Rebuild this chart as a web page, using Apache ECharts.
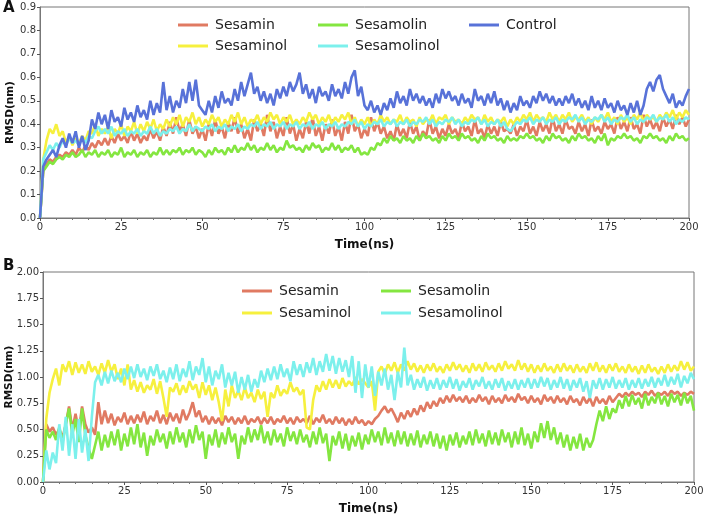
<!DOCTYPE html>
<html><head><meta charset="utf-8">
<script src="https://cdn.jsdelivr.net/npm/echarts@6/dist/echarts.min.js"></script>
<style>html,body{margin:0;padding:0;background:#fff}#c{width:708px;height:515px}</style>
</head><body><div id="c"></div>
<script>
// ---------- Panel A (1 ns steps, t = 0..200) ----------
const namesA = ['Sesamin','Sesaminol','Sesamolin','Sesamolinol','Control'];
const A_Sesamin = [
0.00,0.20,0.23,0.25,0.24,0.26,0.27,0.26,0.28,0.27,
0.29,0.27,0.30,0.28,0.31,0.29,0.32,0.30,0.33,0.31,
0.34,0.31,0.35,0.32,0.36,0.33,0.35,0.32,0.37,0.33,
0.36,0.32,0.35,0.33,0.38,0.34,0.37,0.33,0.39,0.35,
0.41,0.36,0.43,0.37,0.40,0.35,0.42,0.36,0.39,0.34,
0.38,0.33,0.40,0.35,0.42,0.36,0.39,0.34,0.41,0.37,
0.43,0.36,0.40,0.34,0.38,0.33,0.42,0.37,0.40,0.35,
0.44,0.37,0.41,0.34,0.39,0.35,0.43,0.36,0.40,0.33,
0.38,0.34,0.41,0.36,0.43,0.35,0.39,0.33,0.40,0.36,
0.42,0.35,0.39,0.33,0.41,0.36,0.44,0.37,0.40,0.34,
0.38,0.35,0.43,0.37,0.41,0.36,0.39,0.34,0.37,0.33,
0.40,0.35,0.38,0.34,0.41,0.36,0.39,0.33,0.37,0.35,
0.42,0.36,0.39,0.34,0.38,0.35,0.40,0.36,0.38,0.34,
0.41,0.37,0.39,0.35,0.42,0.36,0.38,0.34,0.40,0.36,
0.39,0.35,0.41,0.37,0.38,0.36,0.40,0.35,0.39,0.37,
0.42,0.36,0.39,0.35,0.41,0.37,0.40,0.36,0.43,0.37,
0.40,0.36,0.42,0.38,0.39,0.36,0.41,0.37,0.40,0.35,
0.42,0.37,0.39,0.36,0.41,0.38,0.40,0.36,0.43,0.38,
0.41,0.37,0.43,0.38,0.40,0.36,0.44,0.39,0.42,0.38,
0.41,0.37,0.43,0.39,0.42,0.38,0.44,0.40,0.43,0.39,
0.42];
const A_Sesaminol = [
0.00,0.25,0.33,0.38,0.36,0.40,0.35,0.37,0.32,0.35,
0.31,0.34,0.32,0.35,0.33,0.37,0.36,0.40,0.35,0.38,
0.36,0.39,0.34,0.38,0.36,0.40,0.35,0.39,0.37,0.41,
0.36,0.40,0.37,0.41,0.38,0.42,0.37,0.40,0.38,0.42,
0.39,0.43,0.40,0.44,0.39,0.43,0.41,0.45,0.40,0.43,
0.39,0.42,0.40,0.44,0.41,0.43,0.39,0.42,0.40,0.44,
0.41,0.45,0.40,0.43,0.39,0.42,0.41,0.44,0.40,0.43,
0.41,0.45,0.42,0.44,0.40,0.43,0.41,0.44,0.40,0.42,
0.40,0.43,0.41,0.45,0.42,0.44,0.40,0.43,0.41,0.44,
0.40,0.43,0.41,0.44,0.42,0.45,0.40,0.43,0.39,0.42,
0.40,0.43,0.39,0.42,0.40,0.44,0.41,0.43,0.40,0.42,
0.41,0.44,0.40,0.43,0.41,0.42,0.39,0.43,0.40,0.42,
0.41,0.44,0.40,0.43,0.42,0.44,0.40,0.43,0.41,0.42,
0.40,0.43,0.41,0.44,0.42,0.43,0.40,0.44,0.41,0.43,
0.40,0.42,0.41,0.43,0.39,0.42,0.40,0.43,0.41,0.44,
0.42,0.45,0.41,0.44,0.42,0.43,0.41,0.45,0.42,0.44,
0.41,0.44,0.42,0.45,0.41,0.43,0.42,0.44,0.41,0.43,
0.40,0.43,0.41,0.44,0.42,0.45,0.41,0.43,0.40,0.44,
0.41,0.43,0.40,0.44,0.42,0.45,0.41,0.44,0.42,0.43,
0.41,0.44,0.42,0.45,0.43,0.46,0.42,0.45,0.43,0.46,
0.44];
const A_Sesamolin = [
0.00,0.20,0.22,0.24,0.23,0.25,0.26,0.25,0.27,0.26,
0.28,0.26,0.27,0.29,0.26,0.28,0.27,0.29,0.26,0.28,
0.27,0.29,0.26,0.28,0.27,0.30,0.26,0.28,0.27,0.29,
0.26,0.28,0.27,0.29,0.26,0.28,0.27,0.30,0.27,0.29,
0.27,0.29,0.28,0.30,0.27,0.29,0.28,0.30,0.27,0.29,
0.28,0.26,0.29,0.27,0.30,0.28,0.29,0.27,0.30,0.28,
0.31,0.28,0.30,0.29,0.32,0.29,0.31,0.28,0.30,0.29,
0.32,0.29,0.31,0.28,0.30,0.29,0.33,0.30,0.31,0.29,
0.30,0.28,0.31,0.29,0.32,0.30,0.31,0.28,0.30,0.29,
0.32,0.29,0.31,0.28,0.30,0.29,0.31,0.28,0.30,0.27,
0.28,0.27,0.30,0.29,0.32,0.31,0.34,0.32,0.35,0.33,
0.34,0.32,0.35,0.33,0.34,0.32,0.35,0.33,0.36,0.34,
0.35,0.33,0.34,0.32,0.35,0.33,0.36,0.34,0.35,0.33,
0.36,0.34,0.35,0.33,0.34,0.32,0.35,0.33,0.36,0.34,
0.35,0.33,0.34,0.32,0.35,0.33,0.34,0.33,0.35,0.34,
0.36,0.34,0.35,0.33,0.34,0.32,0.35,0.33,0.36,0.34,
0.35,0.33,0.34,0.32,0.35,0.33,0.36,0.34,0.35,0.33,
0.34,0.32,0.35,0.33,0.36,0.31,0.34,0.33,0.35,0.34,
0.36,0.34,0.35,0.33,0.34,0.32,0.35,0.34,0.36,0.34,
0.35,0.33,0.34,0.32,0.35,0.33,0.36,0.34,0.35,0.33,
0.34];
const A_Sesamolinol = [
0.00,0.25,0.28,0.31,0.29,0.32,0.30,0.33,0.31,0.34,
0.32,0.33,0.31,0.34,0.32,0.35,0.34,0.37,0.39,0.36,
0.38,0.36,0.39,0.35,0.37,0.36,0.38,0.35,0.37,0.36,
0.38,0.35,0.37,0.36,0.39,0.36,0.38,0.35,0.37,0.36,
0.38,0.37,0.39,0.36,0.38,0.37,0.40,0.37,0.39,0.38,
0.37,0.39,0.38,0.40,0.37,0.39,0.38,0.40,0.37,0.39,
0.38,0.40,0.37,0.39,0.38,0.40,0.39,0.41,0.38,0.40,
0.39,0.41,0.38,0.40,0.39,0.41,0.38,0.40,0.39,0.41,
0.38,0.40,0.39,0.41,0.38,0.40,0.39,0.41,0.38,0.40,
0.39,0.41,0.38,0.40,0.39,0.41,0.40,0.42,0.39,0.41,
0.38,0.40,0.39,0.41,0.40,0.42,0.39,0.41,0.40,0.42,
0.39,0.41,0.40,0.42,0.39,0.41,0.40,0.42,0.41,0.43,
0.40,0.42,0.39,0.41,0.40,0.42,0.41,0.43,0.40,0.42,
0.39,0.41,0.40,0.42,0.41,0.43,0.40,0.42,0.39,0.41,
0.40,0.42,0.39,0.41,0.38,0.37,0.39,0.41,0.40,0.42,
0.41,0.43,0.40,0.42,0.41,0.43,0.40,0.42,0.41,0.43,
0.40,0.42,0.41,0.43,0.42,0.44,0.41,0.43,0.40,0.42,
0.41,0.43,0.42,0.44,0.41,0.43,0.40,0.42,0.41,0.43,
0.42,0.44,0.41,0.43,0.40,0.42,0.41,0.43,0.42,0.44,
0.41,0.43,0.42,0.44,0.41,0.43,0.40,0.42,0.41,0.43,
0.42];
const A_Control = [
0.00,0.22,0.25,0.27,0.29,0.26,0.31,0.34,0.30,0.36,
0.32,0.37,0.30,0.35,0.29,0.33,0.42,0.38,0.45,0.40,
0.44,0.38,0.46,0.41,0.43,0.39,0.47,0.42,0.45,0.41,
0.48,0.43,0.46,0.42,0.50,0.44,0.49,0.45,0.58,0.46,
0.52,0.45,0.50,0.47,0.55,0.49,0.58,0.50,0.59,0.48,
0.46,0.44,0.50,0.45,0.52,0.47,0.54,0.49,0.51,0.48,
0.55,0.50,0.58,0.52,0.57,0.62,0.53,0.56,0.50,0.54,
0.49,0.53,0.48,0.55,0.51,0.56,0.52,0.58,0.54,0.57,
0.62,0.53,0.57,0.51,0.55,0.49,0.56,0.52,0.54,0.50,
0.57,0.52,0.55,0.51,0.58,0.53,0.60,0.63,0.52,0.56,
0.48,0.46,0.50,0.45,0.48,0.44,0.49,0.46,0.51,0.47,
0.54,0.49,0.52,0.48,0.55,0.50,0.53,0.49,0.52,0.48,
0.51,0.47,0.53,0.49,0.55,0.51,0.54,0.50,0.52,0.48,
0.53,0.49,0.51,0.47,0.55,0.50,0.52,0.48,0.53,0.49,
0.54,0.48,0.51,0.46,0.50,0.45,0.49,0.46,0.52,0.48,
0.50,0.47,0.52,0.49,0.54,0.50,0.53,0.49,0.52,0.48,
0.51,0.48,0.52,0.49,0.53,0.48,0.51,0.47,0.50,0.46,
0.52,0.47,0.50,0.46,0.51,0.47,0.49,0.45,0.50,0.46,
0.48,0.44,0.49,0.45,0.50,0.44,0.48,0.55,0.58,0.54,
0.59,0.61,0.55,0.52,0.49,0.53,0.47,0.50,0.48,0.52,
0.55];

// ---------- Panel B (1 ns steps, t = 0..200) ----------
const namesB = ['Sesamin','Sesaminol','Sesamolin','Sesamolinol'];
const B_Sesamin = [
0.00,0.55,0.48,0.52,0.45,0.50,0.42,0.55,0.72,0.50,
0.65,0.48,0.72,0.55,0.47,0.52,0.45,0.76,0.55,0.68,
0.56,0.65,0.54,0.62,0.57,0.66,0.55,0.63,0.56,0.64,
0.57,0.67,0.55,0.63,0.58,0.68,0.56,0.64,0.55,0.66,
0.58,0.65,0.56,0.69,0.59,0.66,0.76,0.62,0.68,0.57,
0.63,0.55,0.62,0.56,0.61,0.54,0.63,0.57,0.62,0.55,
0.61,0.56,0.63,0.55,0.60,0.57,0.62,0.55,0.61,0.56,
0.62,0.55,0.60,0.57,0.63,0.56,0.61,0.55,0.62,0.57,
0.60,0.56,0.63,0.55,0.61,0.57,0.64,0.56,0.60,0.55,
0.62,0.56,0.61,0.54,0.60,0.55,0.62,0.56,0.59,0.54,
0.58,0.55,0.60,0.63,0.68,0.72,0.66,0.70,0.64,0.57,
0.66,0.60,0.68,0.62,0.70,0.64,0.73,0.67,0.76,0.70,
0.77,0.72,0.80,0.75,0.82,0.76,0.83,0.77,0.81,0.76,
0.82,0.75,0.80,0.76,0.83,0.77,0.81,0.74,0.82,0.76,
0.80,0.75,0.83,0.77,0.81,0.76,0.84,0.78,0.81,0.75,
0.82,0.76,0.80,0.74,0.83,0.77,0.81,0.75,0.82,0.76,
0.80,0.74,0.82,0.76,0.79,0.73,0.81,0.75,0.80,0.72,
0.81,0.75,0.79,0.74,0.82,0.76,0.80,0.84,0.81,0.85,
0.82,0.86,0.83,0.85,0.81,0.86,0.83,0.87,0.82,0.85,
0.83,0.86,0.82,0.87,0.84,0.86,0.82,0.85,0.83,0.86,
0.84];
const B_Sesaminol = [
0.00,0.60,0.85,0.98,1.08,0.92,1.12,1.05,1.15,1.02,
1.14,1.04,1.12,1.03,1.15,1.05,1.10,1.02,1.13,1.04,
1.16,1.05,1.12,0.98,1.08,0.92,1.12,0.88,0.97,0.86,
0.95,0.85,0.92,0.88,0.98,0.84,0.96,0.80,0.62,0.90,
0.86,0.94,0.83,0.92,0.85,0.96,0.88,0.93,0.80,0.95,
0.83,0.92,0.78,0.90,0.76,0.58,0.88,0.72,0.92,0.80,
0.87,0.78,0.90,0.80,0.85,0.76,0.88,0.79,0.86,0.62,
0.85,0.80,0.92,0.82,0.88,0.84,0.95,0.86,0.90,0.83,
0.88,0.52,0.50,0.78,0.92,0.86,0.96,0.88,0.98,0.90,
0.97,0.89,0.99,0.91,0.96,0.92,1.00,0.93,0.98,0.94,
0.90,0.96,0.68,1.05,1.10,1.03,1.12,1.06,1.14,1.04,
1.12,1.06,1.15,1.07,1.13,1.05,1.11,1.04,1.12,1.06,
1.13,1.05,1.10,1.04,1.12,1.06,1.14,1.07,1.12,1.05,
1.11,1.04,1.13,1.06,1.12,1.05,1.14,1.07,1.11,1.05,
1.13,1.06,1.15,1.08,1.12,1.06,1.16,1.07,1.13,1.05,
1.12,1.04,1.11,1.05,1.13,1.06,1.10,1.04,1.12,1.05,
1.13,1.06,1.11,1.04,1.12,1.05,1.10,1.04,1.13,1.06,
1.14,1.05,1.11,1.04,1.12,1.06,1.13,1.05,1.10,1.04,
1.12,1.05,1.10,1.03,1.11,1.04,1.12,1.05,1.09,1.03,
1.10,1.04,1.12,1.05,1.11,1.06,1.15,1.07,1.14,1.06,
1.10];
const B_Sesamolin = [
0.00,0.50,0.42,0.48,0.40,0.52,0.38,0.55,0.70,0.45,
0.60,0.38,0.70,0.45,0.32,0.22,0.35,0.48,0.30,0.45,
0.33,0.48,0.35,0.50,0.30,0.46,0.34,0.52,0.36,0.55,
0.33,0.47,0.25,0.44,0.35,0.50,0.38,0.46,0.32,0.48,
0.36,0.52,0.38,0.47,0.33,0.50,0.37,0.54,0.40,0.48,
0.22,0.45,0.35,0.50,0.33,0.47,0.36,0.52,0.38,0.46,
0.22,0.44,0.36,0.52,0.38,0.50,0.40,0.54,0.37,0.48,
0.35,0.50,0.38,0.46,0.34,0.52,0.39,0.48,0.36,0.50,
0.38,0.45,0.33,0.48,0.36,0.52,0.37,0.46,0.20,0.44,
0.35,0.48,0.32,0.46,0.30,0.44,0.34,0.47,0.31,0.45,
0.36,0.50,0.38,0.48,0.35,0.52,0.37,0.47,0.34,0.49,
0.36,0.48,0.34,0.46,0.35,0.49,0.33,0.45,0.36,0.48,
0.34,0.46,0.32,0.44,0.30,0.45,0.35,0.47,0.33,0.44,
0.36,0.48,0.35,0.50,0.37,0.46,0.34,0.49,0.36,0.47,
0.35,0.50,0.38,0.47,0.33,0.48,0.36,0.52,0.35,0.46,
0.32,0.48,0.38,0.56,0.42,0.58,0.40,0.52,0.36,0.47,
0.33,0.45,0.30,0.43,0.32,0.46,0.30,0.42,0.33,0.40,
0.55,0.68,0.58,0.72,0.60,0.70,0.66,0.78,0.70,0.82,
0.72,0.83,0.74,0.80,0.70,0.84,0.73,0.81,0.75,0.85,
0.74,0.82,0.72,0.84,0.76,0.83,0.73,0.85,0.75,0.82,
0.68];
const B_Sesamolinol = [
0.00,0.30,0.12,0.28,0.18,0.55,0.30,0.62,0.25,0.55,
0.22,0.60,0.28,0.50,0.20,0.62,0.95,1.02,0.92,1.05,
0.94,1.06,0.96,1.04,0.95,1.08,0.98,1.10,0.99,1.12,
1.00,1.08,0.97,1.10,1.01,1.12,0.98,1.06,0.95,1.09,
0.98,1.12,0.96,1.08,1.00,1.15,0.97,1.10,1.02,1.18,
0.95,1.10,0.92,1.06,0.98,1.12,0.90,1.04,0.92,1.05,
0.85,1.00,0.88,1.02,0.86,0.98,0.90,1.06,0.95,1.08,
0.97,1.10,0.98,1.12,1.00,1.08,0.96,1.15,1.02,1.12,
1.00,1.14,1.04,1.18,1.02,1.15,1.05,1.22,1.06,1.20,
1.03,1.18,1.05,1.16,1.00,1.20,0.85,1.15,0.80,1.12,
0.90,1.10,0.82,1.05,0.92,1.08,0.88,1.02,0.78,1.05,
0.90,1.28,0.92,1.02,0.88,0.98,0.90,1.00,0.87,0.97,
0.89,0.99,0.88,0.97,0.90,1.00,0.89,0.98,0.87,0.96,
0.90,0.99,0.88,0.97,0.91,1.00,0.89,0.96,0.88,0.98,
0.90,0.99,0.87,0.96,0.89,0.98,0.88,0.97,0.90,0.99,
0.89,0.98,0.90,1.00,0.91,0.99,0.88,0.97,0.90,1.00,
0.89,0.98,0.87,0.97,0.90,0.99,0.86,0.96,0.80,0.97,
0.89,0.99,0.88,0.98,0.90,1.00,0.89,0.97,0.90,0.99,
0.88,0.97,0.90,0.99,0.89,0.98,0.91,1.00,0.90,0.99,
0.92,1.02,0.91,1.00,0.93,1.03,0.90,1.01,0.94,1.04,
0.98];

const xTicks = [0,25,50,75,100,125,150,175,200];
const yTicksA = [0.0,0.1,0.2,0.3,0.4,0.5,0.6,0.7,0.8,0.9];
const yTicksB = [0.00,0.25,0.50,0.75,1.00,1.25,1.50,1.75,2.00];

const colors = {
  Sesamin:'#e07a62', Sesaminol:'#f6f03e', Sesamolin:'#84e640',
  Sesamolinol:'#7cf0ec', Control:'#5872d8'
};
const seriesDataA = {Sesamin:A_Sesamin, Sesaminol:A_Sesaminol, Sesamolin:A_Sesamolin, Sesamolinol:A_Sesamolinol, Control:A_Control};
const seriesDataB = {Sesamin:B_Sesamin, Sesaminol:B_Sesaminol, Sesamolin:B_Sesamolin, Sesamolinol:B_Sesamolinol};

const toPairs = arr => arr.map((v,i)=>[i, v]);
const FONT = 'DejaVu Sans';

function xAxis(gridIndex){
  return {
    type:'value', gridIndex, min:xTicks[0], max:xTicks[xTicks.length-1], interval:25,
    name:'Time(ns)', nameLocation:'middle', nameGap:21, nameMoveOverlap:false,
    nameTextStyle:{fontFamily:FONT, fontWeight:'bold', fontSize:12, color:'#111'},
    axisLine:{lineStyle:{color:'#777', width:1}},
    axisTick:{show:true, length:3, lineStyle:{color:'#555'}},
    minorTick:{show:true, splitNumber:5, length:2, lineStyle:{color:'#777'}},
    axisLabel:{fontFamily:FONT, fontSize:10, color:'#333', margin:4},
    splitLine:{show:false}
  };
}
function yAxis(gridIndex, ticks, dec, gap){
  const step = ticks[1]-ticks[0];
  return {
    type:'value', gridIndex, min:ticks[0], max:ticks[ticks.length-1], interval:step,
    name:'RMSD(nm)', nameLocation:'middle', nameGap: gap, nameMoveOverlap:false,
    nameTextStyle:{fontFamily:FONT, fontWeight:'bold', fontSize:10.5, color:'#111'},
    axisLine:{show:true, lineStyle:{color:'#777', width:1}},
    axisTick:{show:true, length:3, lineStyle:{color:'#555'}},
    axisLabel:{fontFamily:FONT, fontSize:10, color:'#333', margin:4, formatter:v=>v.toFixed(dec)},
    splitLine:{show:false}
  };
}

const series = [];
namesA.forEach(n=>{
  series.push({name:n, type:'line', xAxisIndex:0, yAxisIndex:0, data:toPairs(seriesDataA[n]),
    showSymbol:false, symbol:'none', lineStyle:{width:2.6, color:colors[n]}, itemStyle:{color:colors[n]}, z:2});
});
namesB.forEach(n=>{
  series.push({name:n, type:'line', xAxisIndex:1, yAxisIndex:1, data:toPairs(seriesDataB[n]),
    showSymbol:false, symbol:'none', lineStyle:{width:2.6, color:colors[n]}, itemStyle:{color:colors[n]}, z:2});
});

function legend(left, top, gap, data){
  return {left, top, orient:'vertical', data, itemGap:gap, itemWidth:30, itemHeight:3, icon:'rect',
    selectedMode:false,
    textStyle:{fontFamily:FONT, fontSize:14, color:'#222', padding:[0,0,0,2]}};
}

const option = {
  animation:false,
  backgroundColor:'#fff',
  grid:[
    {left:40, top:7, right:19, height:211, show:true, borderColor:'#777', borderWidth:1, backgroundColor:'transparent', outerBoundsMode:'none', containLabel:false},
    {left:43, top:272, right:14, height:210, show:true, borderColor:'#777', borderWidth:1, backgroundColor:'transparent', outerBoundsMode:'none', containLabel:false}
  ],
  xAxis:[xAxis(0), xAxis(1)],
  yAxis:[yAxis(0, yTicksA, 1, 24), yAxis(1, yTicksB, 2, 28)],
  legend:[
    legend(173, 13, 7, ['Sesamin','Sesaminol']),
    legend(313, 13, 7, ['Sesamolin','Sesamolinol']),
    legend(464, 13, 7, ['Control']),
    legend(237, 279, 8, ['Sesamin','Sesaminol']),
    legend(376, 279, 8, ['Sesamolin','Sesamolinol'])
  ],
  graphic:[
    {type:'text', left:3, top:1, style:{text:'A', font:'bold 15px "DejaVu Sans"', fill:'#111'}},
    {type:'text', left:3, top:259, style:{text:'B', font:'bold 15px "DejaVu Sans"', fill:'#111'}}
  ],
  series
};
const chart = echarts.init(document.getElementById('c'), null, {renderer:'canvas'});
chart.setOption(option);
</script>
</body></html>
